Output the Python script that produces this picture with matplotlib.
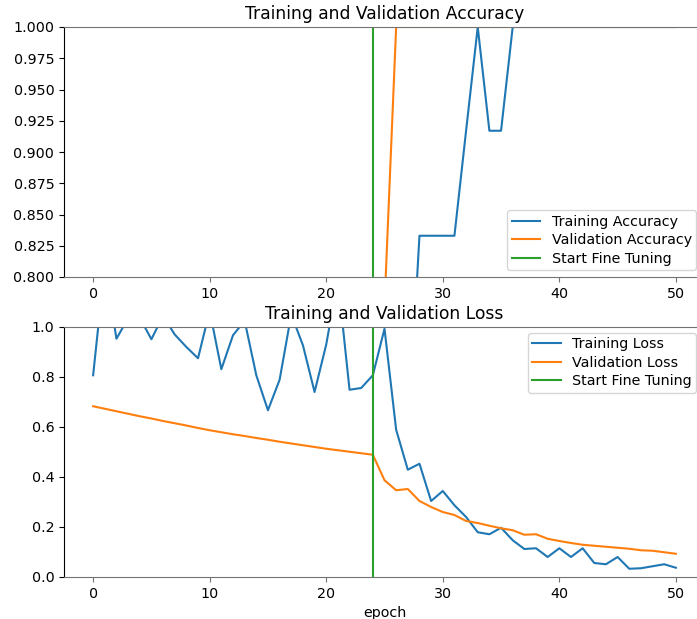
import matplotlib
matplotlib.use("Agg")
import matplotlib.pyplot as plt

plt.rcParams["font.size"] = 10.3

epochs = list(range(51))
fine_tune_epoch = 24

# Accuracy values (values below 0.80 are outside the visible range and estimated)
train_acc = [0.50, 0.42, 0.58, 0.50, 0.50, 0.58, 0.50, 0.58, 0.58, 0.67, 0.50, 0.67,
             0.58, 0.50, 0.67, 0.75, 0.67, 0.50, 0.58, 0.75, 0.58, 0.50, 0.67, 0.67,
             0.67, 0.58, 0.75, 0.667, 0.833, 0.833, 0.833, 0.833, 0.917, 1.0,
             0.917, 0.917, 1.0, 1.0, 1.0, 1.0, 1.0, 1.0, 1.0, 1.0, 1.0, 1.0, 1.0,
             1.0, 1.0, 1.0, 1.0]
val_acc = [0.52, 0.54, 0.55, 0.57, 0.58, 0.59, 0.60, 0.61, 0.62, 0.63, 0.64, 0.65,
           0.66, 0.66, 0.67, 0.68, 0.69, 0.70, 0.70, 0.71, 0.72, 0.72, 0.73, 0.73,
           0.74, 0.777, 1.0, 1.0, 1.0, 1.0, 1.0, 1.0, 1.0, 1.0, 1.0, 1.0, 1.0,
           1.0, 1.0, 1.0, 1.0, 1.0, 1.0, 1.0, 1.0, 1.0, 1.0, 1.0, 1.0, 1.0, 1.0]

train_loss = [0.807, 1.25, 0.953, 1.035, 1.037, 0.951, 1.045, 0.97, 0.92, 0.875,
              1.065, 0.831, 0.967, 1.025, 0.807, 0.667, 0.789, 1.05, 0.927, 0.74,
              0.93, 1.19, 0.749, 0.756, 0.807, 0.993, 0.589, 0.429, 0.453, 0.304,
              0.344, 0.287, 0.240, 0.179, 0.171, 0.197, 0.147, 0.112, 0.115, 0.080,
              0.115, 0.080, 0.115, 0.056, 0.051, 0.080, 0.033, 0.035, 0.043, 0.051,
              0.037]
val_loss = [0.683, 0.673, 0.663, 0.653, 0.643, 0.634, 0.624, 0.615, 0.606, 0.596,
            0.587, 0.579, 0.571, 0.564, 0.556, 0.549, 0.541, 0.534, 0.527, 0.520,
            0.513, 0.507, 0.501, 0.495, 0.489, 0.387, 0.347, 0.352, 0.304, 0.280,
            0.260, 0.248, 0.224, 0.216, 0.205, 0.195, 0.187, 0.169, 0.171, 0.153,
            0.144, 0.136, 0.129, 0.125, 0.121, 0.117, 0.113, 0.107, 0.105, 0.099,
            0.093]

W, H = 697, 619
fig = plt.figure(figsize=(W / 100, H / 100), dpi=100)

def style(ax):
    for s in ("top", "bottom"):
        ax.spines[s].set_color("0.45")
    ax.tick_params(axis="x", color="0.45")

leg_kw = dict(labelspacing=0.32, borderpad=0.3, borderaxespad=0)

ax1 = fig.add_axes([64 / W, 1 - 277 / H, 641 / W, 250 / H])
ax1.plot(epochs, train_acc, label="Training Accuracy")
ax1.plot(epochs, val_acc, label="Validation Accuracy")
ax1.set_ylim([0.8, 1])
ax1.plot([fine_tune_epoch, fine_tune_epoch], ax1.get_ylim(), label="Start Fine Tuning")
ax1.legend(loc="lower right", bbox_to_anchor=(0.986, 0.028), **leg_kw)
ax1.set_title("Training and Validation Accuracy")
style(ax1)

ax2 = fig.add_axes([64 / W, 1 - 577 / H, 641 / W, 250 / H])
ax2.plot(epochs, train_loss, label="Training Loss")
ax2.plot(epochs, val_loss, label="Validation Loss")
ax2.set_ylim([0, 1.0])
ax2.plot([fine_tune_epoch, fine_tune_epoch], ax2.get_ylim(), label="Start Fine Tuning")
ax2.legend(loc="upper right", bbox_to_anchor=(0.986, 0.976), **leg_kw)
ax2.set_title("Training and Validation Loss")
ax2.set_xlabel("epoch")
style(ax2)

fig.savefig("out.png", dpi=100)
